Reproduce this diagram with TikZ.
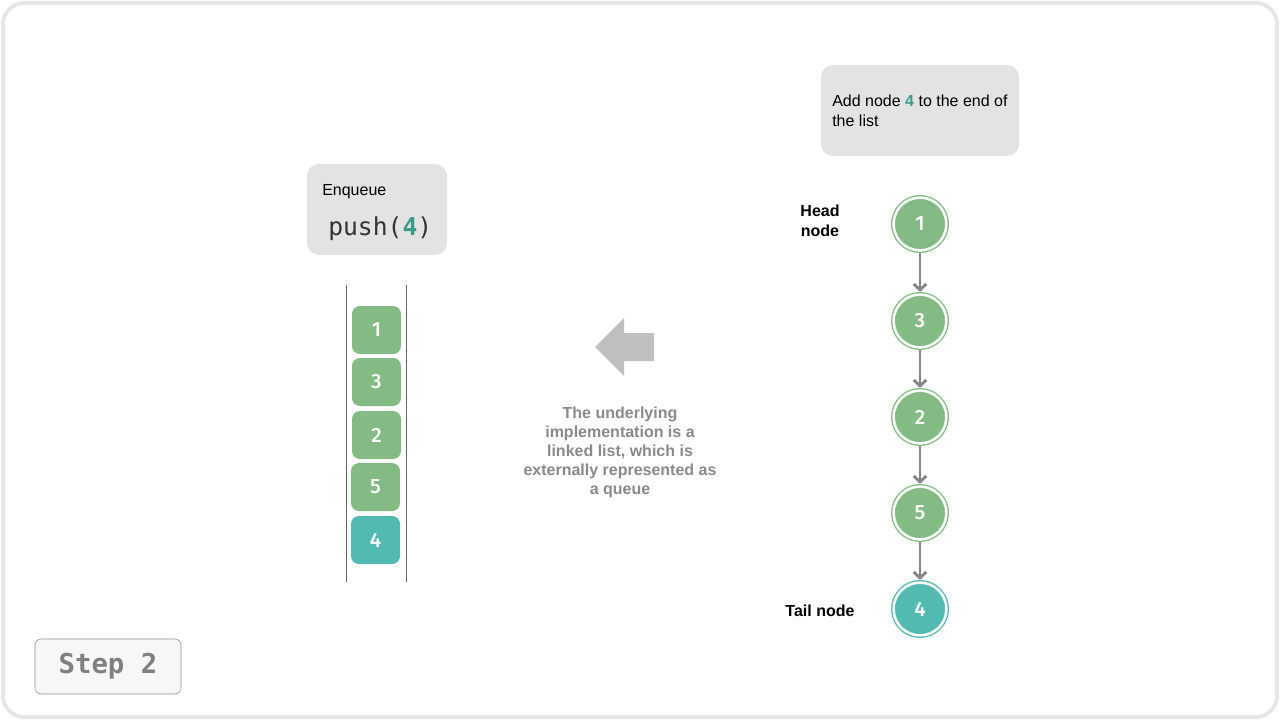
\documentclass[tikz,border=0pt]{standalone}
\usepackage{fontspec}
\setmainfont{Liberation Sans}
\setmonofont{DejaVu Sans Mono}
\newfontfamily\digitfont{Fira Sans}[UprightFont=* Medium]
\usetikzlibrary{%
	arrows.meta,%
	calc%
}
\definecolor{nodegreen}{HTML}{84BA84}
\definecolor{nodeteal}{HTML}{52BAB0}
\definecolor{pushteal}{HTML}{3B9A8C}
\definecolor{boxgray}{HTML}{E3E3E3}
\definecolor{arrowgray}{HTML}{878787}
\definecolor{notegray}{HTML}{8A8A8A}
\definecolor{blockgray}{HTML}{C0C0C0}
\definecolor{framegray}{HTML}{E6E6E6}
\tikzstyle{infobox}=[fill=boxgray, rounded corners=9pt]
\tikzstyle{qcell}=[rectangle, rounded corners=6pt, minimum width=36.75pt, minimum height=36pt, inner sep=0pt, text=white, font=\digitfont\fontsize{15.5}{15.5}\selectfont]
\tikzstyle{lnode}=[circle, minimum size=39.6pt, inner sep=0pt, outer sep=2pt, line width=1pt, double=white, double distance=1.9pt, text=white, font=\digitfont\fontsize{15.5}{15.5}\selectfont]
\tikzstyle{link}=[draw=arrowgray, line width=2.2pt, -{Straight Barb[length=4.5pt,width=9.5pt]}]
\tikzstyle{tag}=[font=\bfseries\fontsize{12}{15}\selectfont, align=center]

\begin{document}
\begin{tikzpicture}[x=0.75pt, y=-0.75pt]
				\useasboundingbox (0,0) rectangle (1280,720);
				\fill[white] (0,0) rectangle (1280,720);
				\draw[framegray, line width=3pt, rounded corners=16pt] (3,3) rectangle (1277,717);
				
				% Enqueue box
				\fill[infobox] (307,164) rectangle (447,255);
				\node[anchor=west, inner sep=0pt, font=\fontsize{12}{14}\selectfont] (enq) at (322,192) {Enqueue};
				\node[anchor=west, inner sep=0pt, text=black!80, font=\ttfamily\fontsize{18.5}{20}\selectfont] (push) at (328,228.5) {push(\textcolor{pushteal}{\bfseries 4})};
				
				% Queue walls
				\coordinate (wl0) at (346,285);
				\coordinate (wl1) at (346,582);
				\coordinate (wr0) at (406,285);
				\coordinate (wr1) at (406,582);
				\draw[black!60, line width=0.75pt] (wl0) -- (wl1);
				\draw[black!60, line width=0.75pt] (wr0) -- (wr1);
				
				% Queue cells
				\foreach \val/\xpos/\ypos/\col [count=\i] in {1/376.5/330/nodegreen,3/376.5/382/nodegreen,2/376.5/435/nodegreen,5/375.5/487/nodegreen,4/375.5/540/nodeteal}
				\node[qcell, fill=\col] (q\i) at (\xpos,\ypos) {\val};
				
				% Block arrow
				\fill[blockgray] (595,347) -- (624,318) -- (624,333) -- (654,333) -- (654,361) -- (624,361) -- (624,376) -- cycle;
				\node[text=notegray, font=\bfseries\fontsize{12}{14.25}\selectfont, align=center] (impl) at (620,452) {The underlying\\implementation is a\\linked list, which is\\externally represented as\\a queue};
				
				% Note box
				\fill[infobox] (821,65) rectangle (1019,156);
				\node[anchor=west, inner sep=0pt, align=left, font=\fontsize{12}{15}\selectfont] (note) at (832,111) {Add node \textcolor{pushteal}{\bfseries 4} to the end of\\the list};
				
				% Linked list
				\foreach \val/\ypos/\col [count=\i] in {1/224/nodegreen,3/321/nodegreen,2/417/nodegreen,5/513/nodegreen,4/609/nodeteal}
				\node[lnode, draw=\col, fill=\col] (c\i) at (920,\ypos) {\val};
				\draw[link] (c1) -- (c2);
				\draw[link] (c2) -- (c3);
				\draw[link] (c3) -- (c4);
				\draw[link] (c4) -- (c5);
				
				\node[tag] (head) at (820,221) {Head\\node};
				\node[tag] (tail) at (820,611) {Tail node};
				
				% Step label
				\node[draw=black!45, fill=black!3, rounded corners=4.5pt, minimum width=109.5pt, minimum height=41.25pt, text=black!50, font=\ttfamily\bfseries\fontsize{20.5}{20.5}\selectfont] (step) at (108,666.5) {Step 2};
			\end{tikzpicture}
\end{document}
